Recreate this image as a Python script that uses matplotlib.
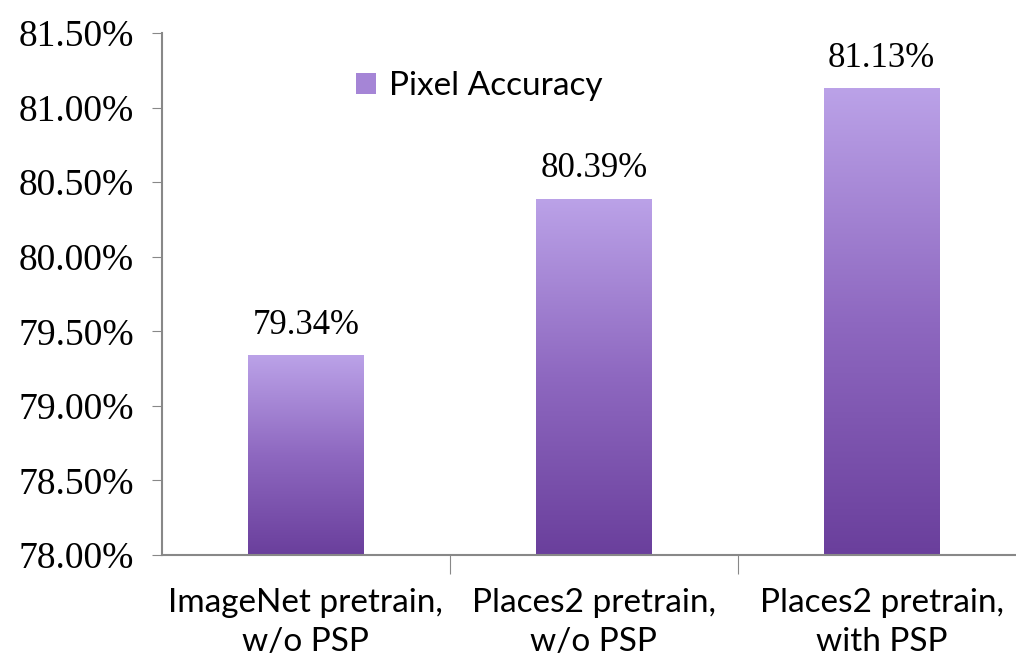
import numpy as np
from matplotlib import pyplot as plt
from matplotlib.colors import LinearSegmentedColormap
from matplotlib.patches import Patch

categories = ['ImageNet pretrain,\nw/o PSP', 'Places2 pretrain,\nw/o PSP', 'Places2 pretrain,\nwith PSP']
accuracy = [79.34, 80.39, 81.13]
value_labels = ['79.34%', '80.39%', '81.13%']
yticks = [78.0, 78.5, 79.0, 79.5, 80.0, 80.5, 81.0, 81.5]

serif = 'Liberation Serif'
sans = 'Lato'

grad = LinearSegmentedColormap.from_list('purp', ['#6a3f9c', '#8e68c0', '#bba2e8'])

fig = plt.figure(figsize=(10.16, 6.64), dpi=100)
ax = fig.add_axes([0.1594, 0.1642, 0.85, 0.786])

x = np.arange(len(categories))
bars = ax.bar(x, accuracy, width=0.4, bottom=0, color='none', edgecolor='none')
ax.set_ylim(78.0, 81.5)
ax.set_xlim(-0.5, 2.5)

# vertical gradient fill for each bar
g = np.linspace(0, 1, 256).reshape(-1, 1)
for b in bars:
    x0 = b.get_x()
    x1 = x0 + b.get_width()
    im = ax.imshow(g, cmap=grad, origin='lower', aspect='auto',
                   extent=[x0, x1, 78.0, b.get_height()], zorder=2)
    im.set_clip_path(b)

for xi, v, lab in zip(x, accuracy, value_labels):
    ax.text(xi, v + 0.09, lab, ha='center', va='bottom', fontsize=25, family=serif)

ax.set_xlim(-0.5, 2.5)

ax.set_yticks(yticks)
ax.set_yticklabels([f'{t:.2f}%' for t in yticks], family=serif, fontsize=27)
ax.tick_params(axis='y', direction='out', length=7, color='#888888', pad=13)

ax.set_xticks([0.5, 1.5])
ax.set_xticklabels([])
ax.tick_params(axis='x', which='major', direction='out', length=14, color='#888888')
ax.set_xticks(x, minor=True)
ax.set_xticklabels(categories, minor=True, family=sans, fontsize=24, linespacing=1.35)
ax.tick_params(axis='x', which='minor', length=0, pad=24)

for s in ['top', 'right']:
    ax.spines[s].set_visible(False)
for s in ['left', 'bottom']:
    ax.spines[s].set_color('#888888')
    ax.spines[s].set_linewidth(1.5)

ax.legend(handles=[Patch(facecolor='#a585d6', label='Pixel Accuracy')],
          loc='upper left', bbox_to_anchor=(0.19, 0.985), frameon=False,
          prop={'family': sans, 'size': 24}, handlelength=0.6, handleheight=0.6,
          handletextpad=0.4)

fig.savefig('out.png', dpi=100)
